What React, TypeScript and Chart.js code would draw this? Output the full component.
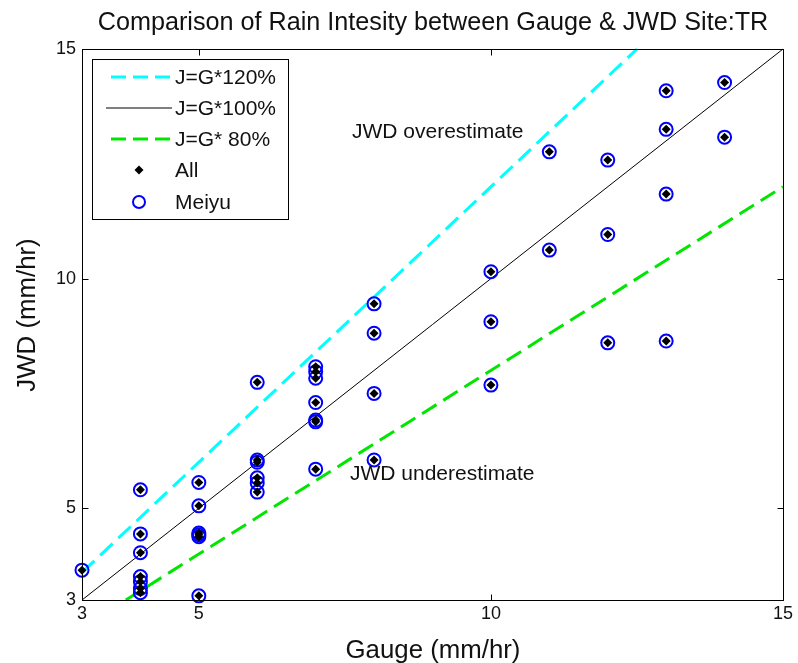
import React, { useEffect, useRef } from "react";
import { Chart, registerables } from "chart.js";

Chart.register(...registerables);

// ---- data ----
const gaugeAll = [3, 4, 4, 4, 4, 4, 4, 4, 5, 5, 5, 5, 5, 5, 6, 6, 6, 6, 6, 6, 7, 7, 7, 7, 7, 7, 7, 8, 8, 8, 8, 10, 10, 10, 11, 11, 12, 12, 12, 13, 13, 13, 13, 14, 14];
const jwdAll = [3.65, 5.4, 4.44, 4.03, 3.51, 3.4, 3.25, 3.16, 5.56, 5.05, 4.46, 4.42, 4.38, 3.09, 7.74, 6.05, 6.0, 5.66, 5.55, 5.35, 8.08, 7.97, 7.83, 7.3, 6.92, 6.88, 5.85, 9.45, 8.81, 7.5, 6.05, 10.15, 9.06, 7.68, 12.76, 10.62, 12.58, 10.96, 8.6, 14.09, 13.25, 11.84, 8.64, 14.27, 13.08];
const gaugeMeiyu = gaugeAll;
const jwdMeiyu = jwdAll;

const ref120X = [3, 12.5];
const ref120Y = [3.6, 15];
const ref100X = [3, 15];
const ref100Y = [3, 15];
const ref80X = [3.75, 15];
const ref80Y = [3, 12];

const xTicks = [3, 5, 10, 15];
const yTicks = [3, 5, 10, 15];

const titleText = "Comparison of Rain Intesity between Gauge & JWD Site:TR";
const xLabel = "Gauge (mm/hr)";
const yLabel = "JWD (mm/hr)";
const legendLabels = ["J=G*120%", "J=G*100%", "J=G* 80%", "All", "Meiyu"];
const overText = "JWD overestimate";
const underText = "JWD underestimate";

const FONT = "'Liberation Sans', Arial, Helvetica, sans-serif";
const CYAN = "#00ffff";
const GREEN = "#00e600";
const BLUE = "#0000ff";
const TEXT = "#111";

const zip = (xs: number[], ys: number[]) => xs.map((v, i) => ({ x: v, y: ys[i] }));

const overlay = {
  id: "overlay",
  beforeDraw(chart: any) {
    const ctx = chart.ctx;
    ctx.save();
    ctx.fillStyle = "#fff";
    ctx.fillRect(0, 0, chart.width, chart.height);
    ctx.restore();
  },
  afterDraw(chart: any) {
    const ctx = chart.ctx;
    const { left, right, top, bottom } = chart.chartArea;
    const xs = chart.scales.x;
    const ys = chart.scales.y;
    ctx.save();
    ctx.strokeStyle = "#000";
    ctx.lineWidth = 1;
    const L = Math.round(left) + 0.5, R = Math.round(right) + 0.5, T = Math.round(top) + 0.5, B = Math.round(bottom) + 0.5;
    ctx.strokeRect(L, T, R - L, B - T);
    // ticks
    ctx.beginPath();
    xTicks.forEach((v) => {
      const p = Math.round(xs.getPixelForValue(v)) + 0.5;
      ctx.moveTo(p, B); ctx.lineTo(p, B - 6);
      ctx.moveTo(p, T); ctx.lineTo(p, T + 6);
    });
    yTicks.forEach((v) => {
      const p = Math.round(ys.getPixelForValue(v)) + 0.5;
      ctx.moveTo(L, p); ctx.lineTo(L + 6, p);
      ctx.moveTo(R, p); ctx.lineTo(R - 6, p);
    });
    ctx.stroke();
    ctx.fillStyle = TEXT;
    ctx.font = `18px ${FONT}`;
    ctx.textAlign = "center";
    ctx.textBaseline = "top";
    xTicks.forEach((v) => ctx.fillText(String(v), xs.getPixelForValue(v), bottom + 5));
    ctx.textAlign = "right";
    ctx.textBaseline = "middle";
    yTicks.forEach((v) => ctx.fillText(String(v), left - 6, ys.getPixelForValue(v)));
    // title & axis labels
    ctx.textAlign = "center";
    ctx.font = `25.2px ${FONT}`;
    ctx.fillText(titleText, 433, 23);
    ctx.font = `25.8px ${FONT}`;
    ctx.fillText(xLabel, 433, 651);
    ctx.save();
    ctx.translate(28, 315);
    ctx.rotate(-Math.PI / 2);
    ctx.fillText(yLabel, 0, 0);
    ctx.restore();
    // annotations
    ctx.textAlign = "left";
    ctx.font = `21px ${FONT}`;
    ctx.fillText(overText, 352, 132);
    ctx.fillText(underText, 350, 474);
    // legend
    const lx = 92.5, ly = 59.5, lw = 196, lh = 160;
    ctx.fillStyle = "#fff";
    ctx.fillRect(lx, ly, lw, lh);
    ctx.strokeStyle = "#000";
    ctx.lineWidth = 1;
    ctx.strokeRect(lx, ly, lw, lh);
    const rows = [77, 108, 139, 170, 202];
    const drawSample = (i: number, color: string, dash: number[], width: number, x0: number) => {
      ctx.save();
      ctx.strokeStyle = color;
      ctx.lineWidth = width;
      ctx.setLineDash(dash);
      ctx.beginPath();
      ctx.moveTo(x0, rows[i]);
      ctx.lineTo(172, rows[i]);
      ctx.stroke();
      ctx.restore();
    };
    drawSample(0, CYAN, [15, 7], 3, 111);
    drawSample(1, "#000", [], 1, 106);
    drawSample(2, GREEN, [15, 7], 3, 111);
    // diamond
    ctx.fillStyle = "#000";
    ctx.beginPath();
    ctx.moveTo(139, rows[3] - 4.5);
    ctx.lineTo(143.5, rows[3]);
    ctx.lineTo(139, rows[3] + 4.5);
    ctx.lineTo(134.5, rows[3]);
    ctx.closePath();
    ctx.fill();
    // circle
    ctx.strokeStyle = BLUE;
    ctx.lineWidth = 2;
    ctx.beginPath();
    ctx.arc(139, rows[4], 6, 0, Math.PI * 2);
    ctx.stroke();
    ctx.fillStyle = TEXT;
    ctx.font = `21px ${FONT}`;
    ctx.textAlign = "left";
    ctx.textBaseline = "middle";
    legendLabels.forEach((t, i) => ctx.fillText(t, 175, rows[i] + 1));
    ctx.restore();
  },
};

export default function App() {
  const ref = useRef<HTMLCanvasElement>(null);
  useEffect(() => {
    document.body.style.margin = "0";
    const chart = new Chart(ref.current as HTMLCanvasElement, {
      type: "scatter",
      data: {
        datasets: [
          {
            label: "All",
            data: zip(gaugeAll, jwdAll),
            pointStyle: "rectRot",
            pointRadius: 4.5,
            backgroundColor: "#000",
            borderColor: "#000",
            borderWidth: 0,
            clip: false,
          } as any,
          {
            label: "Meiyu",
            data: zip(gaugeMeiyu, jwdMeiyu),
            pointStyle: "circle",
            pointRadius: 6.5,
            backgroundColor: "rgba(0,0,0,0)",
            borderColor: BLUE,
            borderWidth: 2,
            clip: false,
          } as any,
          {
            label: "J=G*120%",
            data: zip(ref120X, ref120Y),
            showLine: true,
            pointRadius: 0,
            borderColor: CYAN,
            borderWidth: 3,
            borderDash: [17, 8],
            clip: false,
          } as any,
          {
            label: "J=G*100%",
            data: zip(ref100X, ref100Y),
            showLine: true,
            pointRadius: 0,
            borderColor: "#000",
            borderWidth: 1,
            clip: false,
          } as any,
          {
            label: "J=G* 80%",
            data: zip(ref80X, ref80Y),
            showLine: true,
            pointRadius: 0,
            borderColor: GREEN,
            borderWidth: 3,
            borderDash: [17, 8],
            clip: false,
          } as any,
        ],
      },
      options: {
        responsive: false,
        animation: false,
        devicePixelRatio: 1,
        layout: { padding: { left: 82, top: 49, right: 15, bottom: 63 } },
        scales: {
          x: { type: "linear", min: 3, max: 15, display: false },
          y: { type: "linear", min: 3, max: 15, display: false },
        },
        plugins: { legend: { display: false }, tooltip: { enabled: false }, title: { display: false } },
      },
      plugins: [overlay],
    } as any);
    return () => chart.destroy();
  }, []);
  return (
    <div style={{ position: "absolute", left: 0, top: 0, width: 798, height: 663 }}>
      <canvas ref={ref} width={798} height={663} />
    </div>
  );
}
